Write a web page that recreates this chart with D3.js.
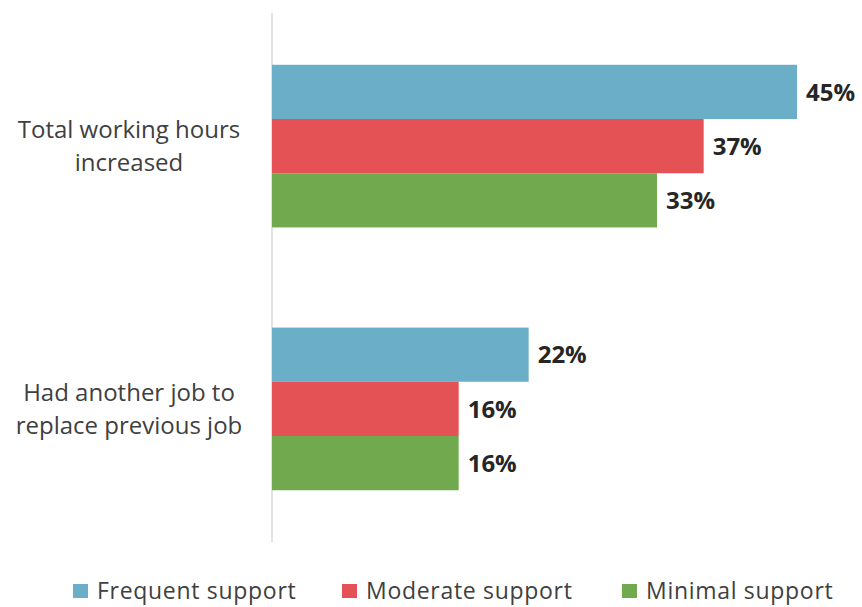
<!DOCTYPE html>
<html>
<head>
<meta charset="utf-8">
<script src="https://cdn.jsdelivr.net/npm/d3@7"></script>
<style>
  html, body { margin: 0; padding: 0; background: #fff; }
  svg text { font-family: "Open Sans", "Noto Sans", sans-serif; }
</style>
</head>
<body>
<svg id="chart" width="862" height="607"></svg>
<script>
// Categories (two-line labels) and series values in percent
const categories = ["Total working hours increased", "Had another job to replace previous job"];
const categoryLines = [["Total working hours", "increased"], ["Had another job to", "replace previous job"]];
const seriesNames = ["Frequent support", "Moderate support", "Minimal support"];
const seriesColors = ["#6aafc7", "#e55256", "#71aa4e"];
const frequent = [45, 22];
const moderate = [37, 16];
const minimal = [33, 16];
const seriesValues = [frequent, moderate, minimal];

const svg = d3.select("#chart");
const axisX = 272;

const x = d3.scaleLinear().domain([0, 45]).range([axisX, 797]);
const y = d3.scaleBand().domain(categories).range([13, 542])
  .paddingInner(0.381).paddingOuter(0.197);
const ySub = d3.scaleBand().domain(seriesNames).range([0, y.bandwidth()]);

// Vertical category axis line
svg.append("line")
  .attr("x1", axisX).attr("x2", axisX)
  .attr("y1", 13).attr("y2", 542)
  .attr("stroke", "#d9d9d9").attr("stroke-width", 1.5);

const groups = svg.selectAll("g.cat").data(categories).enter().append("g")
  .attr("class", "cat")
  .attr("transform", d => `translate(0,${y(d)})`);

seriesNames.forEach((s, si) => {
  groups.append("rect")
    .attr("x", x(0))
    .attr("y", ySub(s))
    .attr("height", ySub.bandwidth())
    .attr("width", (d, ci) => x(seriesValues[si][ci]) - x(0))
    .attr("fill", seriesColors[si]);

  groups.append("text")
    .attr("x", (d, ci) => x(seriesValues[si][ci]) + 9)
    .attr("y", ySub(s) + ySub.bandwidth() / 2)
    .attr("dy", "0.36em")
    .attr("font-size", 24)
    .attr("font-weight", "bold")
    .attr("fill", "#262626")
    .text((d, ci) => seriesValues[si][ci] + "%");
});

// Category labels, centred left of the axis
groups.each(function (d, ci) {
  const lines = categoryLines[ci];
  const t = d3.select(this).append("text")
    .attr("text-anchor", "middle")
    .attr("font-size", 24)
    .attr("fill", "#404040");
  lines.forEach((ln, li) => {
    t.append("tspan")
      .attr("x", 129)
      .attr("y", y.bandwidth() / 2 + (li - (lines.length - 1) / 2) * 33)
      .attr("dy", "0.36em")
      .text(ln);
  });
});

// Legend
const legendX = [73, 342, 622];
const legend = svg.selectAll("g.legend").data(seriesNames).enter().append("g")
  .attr("class", "legend")
  .attr("transform", (d, i) => `translate(${legendX[i]},591)`);
legend.append("rect")
  .attr("x", 0).attr("y", -7).attr("width", 15).attr("height", 14)
  .attr("fill", (d, i) => seriesColors[i]);
legend.append("text")
  .attr("x", 24).attr("y", 8)
  .attr("font-size", 23)
  .attr("letter-spacing", 0.7)
  .attr("fill", "#404040")
  .text(d => d);
</script>
</body>
</html>
